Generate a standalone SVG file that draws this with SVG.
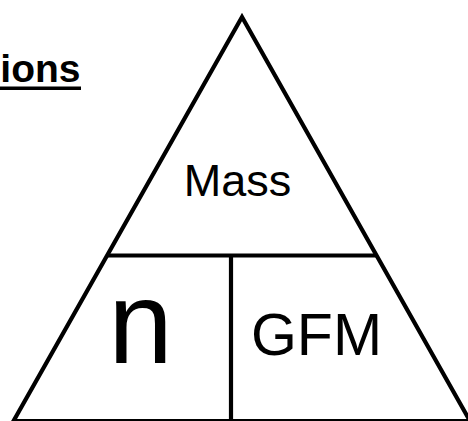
<svg xmlns="http://www.w3.org/2000/svg" width="468" height="421" viewBox="0 0 468 421">
  <style>
    .ln { fill: none; stroke: #000; stroke-width: 4.2; stroke-linejoin: miter; }
    .lbl { font-family: "Liberation Sans", Arial, sans-serif; fill: #000; text-anchor: middle; }
  </style>
  <rect width="468" height="421" fill="#fff"/>
  <g id="heading">
    <text x="80.5" y="81.5" font-family="'Liberation Sans', Arial, sans-serif" font-weight="bold" font-size="39" text-anchor="end" fill="#000">ions</text>
    <rect x="0" y="86.5" width="81" height="3.5" fill="#000"/>
  </g>
  <g id="connectors">
    <polygon class="ln" points="242,17 13.5,421 470,421"/>
    <line class="ln" x1="107" y1="255.5" x2="377" y2="255.5"/>
    <line class="ln" x1="231" y1="255.5" x2="231" y2="421"/>
  </g>
  <g id="mass">
    <text class="lbl" x="237.5" y="195.7" font-size="45">Mass</text>
  </g>
  <g id="n">
    <text class="lbl" x="140.5" y="363" font-size="116">n</text>
  </g>
  <g id="gfm">
    <text class="lbl" x="316.5" y="355" font-size="59">GFM</text>
  </g>
</svg>
